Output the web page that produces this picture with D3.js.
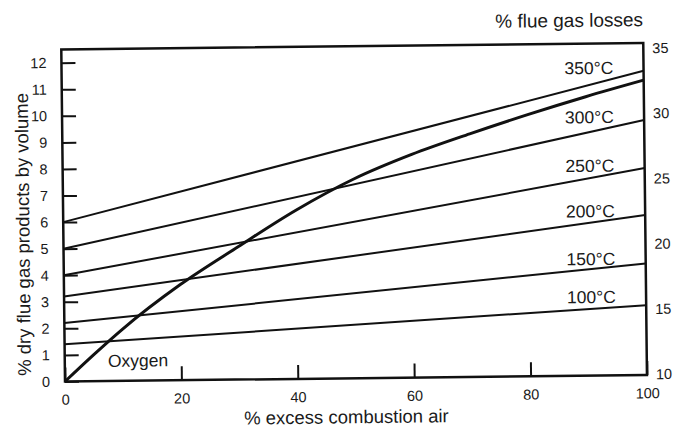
<!DOCTYPE html>
<html>
<head>
<meta charset="utf-8">
<script src="https://cdn.jsdelivr.net/npm/d3@7"></script>
<style>
  html, body { margin: 0; padding: 0; background: #fff; }
  svg { display: block; }
  text { font-family: "Liberation Sans", Arial, Helvetica, sans-serif; fill: #1a1a1a; }
</style>
</head>
<body>
<svg id="chart" width="673" height="431"></svg>
<script>
// ---- data ----
const xTicks = [0, 20, 40, 60, 80, 100];
const yTicks = [0, 1, 2, 3, 4, 5, 6, 7, 8, 9, 10, 11, 12];
const rightTicks = [10, 15, 20, 25, 30, 35];
const tempLabels = ["100°C", "150°C", "200°C", "250°C", "300°C", "350°C"];
const tempStart = [1.4, 2.2, 3.2, 4.0, 5.0, 6.0];     // value at 0 % excess air
const tempEnd = [2.63, 4.2, 6.02, 7.79, 9.6, 11.45];  // value at 100 % excess air
const tempLabelY = [2.73, 4.16, 5.96, 7.67, 9.5, 11.35];
const oxygenX = [0, 5, 10, 20, 30, 40, 50, 60, 70, 80, 90, 100];
const oxygenY = [0, 1.0, 1.95, 3.6, 5.0, 6.35, 7.5, 8.4, 9.15, 9.85, 10.5, 11.1];

// ---- layout ----
const svg = d3.select("#chart");
const plotLeft = 65, plotRight = 647, plotBottom = 381.5;
const x = d3.scaleLinear().domain([0, 100]).range([plotLeft, plotRight]);
const y = d3.scaleLinear().domain([0, 12]).range([plotBottom, 62.7]);
const yR = d3.scaleLinear().domain([10, 35]).range([380.6, 54.6]);
const plotTop = y(12.5);

// whole scan is slightly tilted
const g = svg.append("g").attr("transform", `rotate(-0.64, ${plotLeft}, ${plotBottom})`);

// frame
g.append("rect")
  .attr("x", plotLeft).attr("y", plotTop)
  .attr("width", plotRight - plotLeft).attr("height", plotBottom - plotTop)
  .attr("fill", "none").attr("stroke", "#111").attr("stroke-width", 2.5);

// left axis
const ax = g.append("g").attr("transform", `translate(${plotLeft},0)`)
  .call(d3.axisLeft(y).tickValues(yTicks).tickSize(-14).tickPadding(15).tickFormat(d3.format("d")));
ax.select(".domain").remove();
ax.selectAll("line").attr("stroke", "#111").attr("stroke-width", 2);
ax.selectAll("text").style("font-size", "14.5px").attr("fill", "#1a1a1a");

// bottom axis
const bx = g.append("g").attr("transform", `translate(0,${plotBottom})`)
  .call(d3.axisBottom(x).tickValues(xTicks).tickSize(-14).tickPadding(13).tickFormat(d3.format("d")));
bx.select(".domain").remove();
bx.selectAll("line").attr("stroke", "#111").attr("stroke-width", 2);
bx.selectAll("text").style("font-size", "14.5px").attr("fill", "#1a1a1a");

// right axis (labels only)
const rx = g.append("g").attr("transform", `translate(${plotRight},0)`)
  .call(d3.axisRight(yR).tickValues(rightTicks).tickSize(0).tickPadding(9).tickFormat(d3.format("d")));
rx.select(".domain").remove();
rx.selectAll("text").style("font-size", "14.5px").attr("fill", "#1a1a1a");

// temperature lines
const line = d3.line().x(d => x(d[0])).y(d => y(d[1]));
tempLabels.forEach((lab, i) => {
  g.append("path")
    .attr("d", line([[0, tempStart[i]], [100, tempEnd[i]]]))
    .attr("fill", "none").attr("stroke", "#111").attr("stroke-width", 2);
  g.append("text")
    .attr("x", x(94.8)).attr("y", y(tempLabelY[i]))
    .attr("text-anchor", "end")
    .style("font-size", "17.5px")
    .text(lab);
});

// oxygen curve
const curve = d3.line().x(d => x(d[0])).y(d => y(d[1])).curve(d3.curveMonotoneX);
g.append("path")
  .attr("d", curve(oxygenX.map((v, i) => [v, oxygenY[i]])))
  .attr("fill", "none").attr("stroke", "#111").attr("stroke-width", 3);
g.append("text")
  .attr("x", x(7.4)).attr("y", y(0.53))
  .style("font-size", "17.5px")
  .text("Oxygen");

// axis titles
g.append("text")
  .attr("x", plotRight).attr("y", 32.6)
  .attr("text-anchor", "end")
  .style("font-size", "19px")
  .text("% flue gas losses");

g.append("text")
  .attr("x", 346).attr("y", 426.5)
  .attr("text-anchor", "middle")
  .style("font-size", "18.5px")
  .text("% excess combustion air");

g.append("text")
  .attr("transform", `translate(31,234) rotate(-90)`)
  .attr("text-anchor", "middle")
  .style("font-size", "18.5px")
  .text("% dry flue gas products by volume");
</script>
</body>
</html>
